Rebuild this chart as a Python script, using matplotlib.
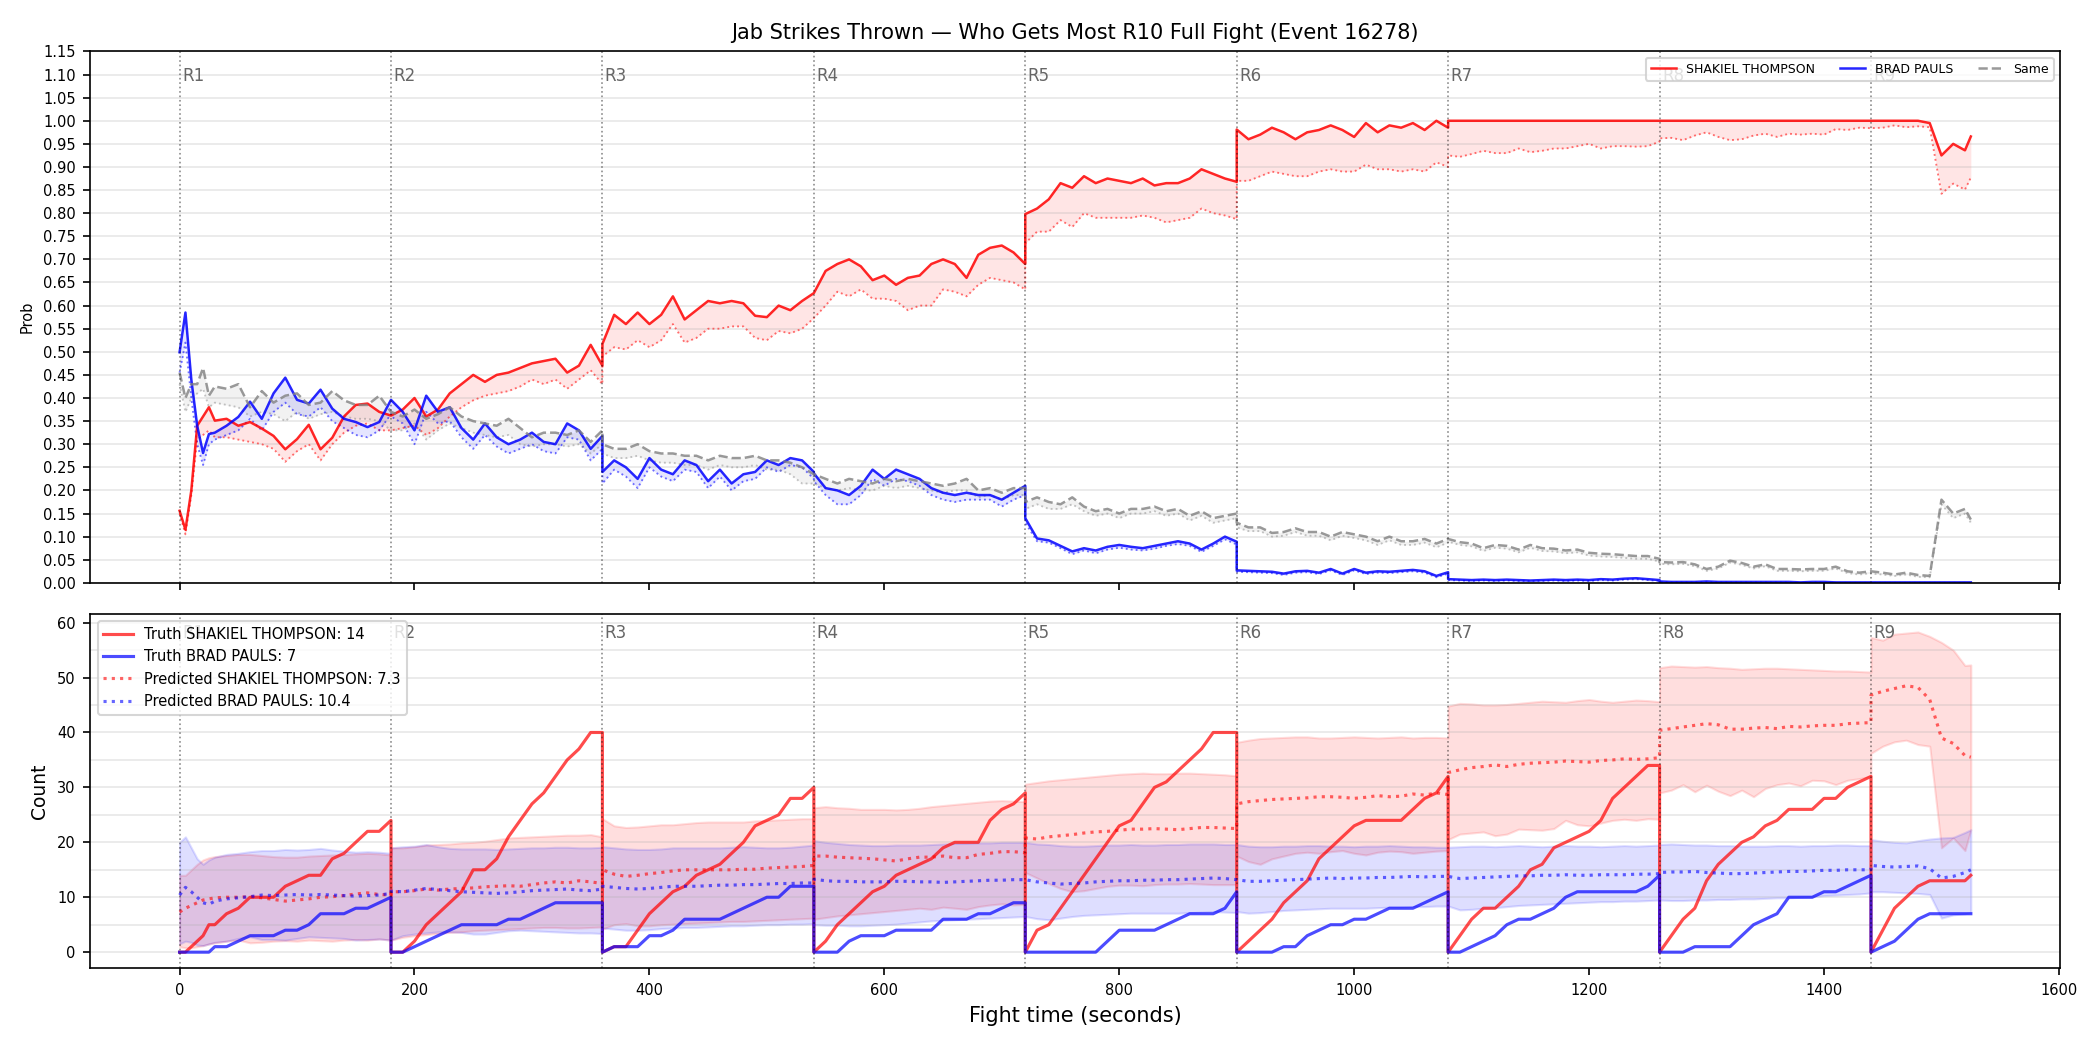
import numpy as np
import matplotlib.pyplot as plt
from matplotlib.ticker import MultipleLocator

# sample times per round (R1 sampled finer at the start, R9 stops at 1525 s)
R1_TIMES = [0, 5, 10, 15, 20, 25, 30] + list(range(40, 181, 10))
MID_TIMES = [list(range(180 * r, 180 * r + 181, 10)) for r in range(1, 8)]
R9_TIMES = list(range(1440, 1521, 10)) + [1525]
ROUND_TIMES = [R1_TIMES] + MID_TIMES + [R9_TIMES]
ROUND_STARTS = [0, 180, 360, 540, 720, 900, 1080, 1260, 1440]
ROUND_NAMES = ["R1", "R2", "R3", "R4", "R5", "R6", "R7", "R8", "R9"]

RED_NAME = "SHAKIEL THOMPSON"
BLUE_NAME = "BRAD PAULS"

###########################
### Top panel: P(winner) ###
###########################
prob_red = [
    [0.156, 0.115, 0.20, 0.34, 0.36, 0.38, 0.351, 0.355, 0.34, 0.348, 0.334, 0.318, 0.289, 0.311, 0.342, 0.289, 0.314, 0.36, 0.385, 0.388, 0.37, 0.362],
    [0.362, 0.375, 0.40, 0.36, 0.375, 0.41, 0.43, 0.45, 0.435, 0.45, 0.455, 0.465, 0.475, 0.48, 0.485, 0.455, 0.47, 0.515, 0.47],
    [0.517, 0.58, 0.56, 0.585, 0.56, 0.58, 0.62, 0.57, 0.59, 0.61, 0.605, 0.61, 0.605, 0.578, 0.575, 0.60, 0.59, 0.61, 0.627],
    [0.627, 0.675, 0.69, 0.70, 0.685, 0.655, 0.665, 0.645, 0.66, 0.665, 0.69, 0.70, 0.69, 0.66, 0.71, 0.725, 0.73, 0.715, 0.69],
    [0.798, 0.81, 0.83, 0.865, 0.855, 0.88, 0.865, 0.875, 0.87, 0.865, 0.875, 0.86, 0.865, 0.865, 0.875, 0.895, 0.885, 0.875, 0.868],
    [0.981, 0.96, 0.97, 0.985, 0.975, 0.96, 0.975, 0.98, 0.99, 0.98, 0.965, 0.995, 0.975, 0.99, 0.985, 0.995, 0.98, 1.0, 0.985],
    [1.0, 1.0, 1.0, 1.0, 1.0, 1.0, 1.0, 1.0, 1.0, 1.0, 1.0, 1.0, 1.0, 1.0, 1.0, 1.0, 1.0, 1.0, 1.0],
    [1.0, 1.0, 1.0, 1.0, 1.0, 1.0, 1.0, 1.0, 1.0, 1.0, 1.0, 1.0, 1.0, 1.0, 1.0, 1.0, 1.0, 1.0, 1.0],
    [1.0, 1.0, 1.0, 1.0, 1.0, 0.995, 0.925, 0.95, 0.936, 0.966],
]
prob_red_low = [
    [0.15, 0.105, 0.19, 0.31, 0.32, 0.33, 0.315, 0.315, 0.31, 0.305, 0.30, 0.29, 0.262, 0.285, 0.30, 0.265, 0.30, 0.325, 0.34, 0.345, 0.33, 0.33],
    [0.33, 0.335, 0.34, 0.32, 0.335, 0.36, 0.38, 0.395, 0.405, 0.41, 0.415, 0.425, 0.44, 0.43, 0.44, 0.42, 0.44, 0.46, 0.43],
    [0.49, 0.51, 0.505, 0.525, 0.51, 0.525, 0.56, 0.52, 0.53, 0.55, 0.55, 0.555, 0.555, 0.53, 0.525, 0.545, 0.54, 0.55, 0.573],
    [0.573, 0.60, 0.63, 0.62, 0.635, 0.615, 0.615, 0.61, 0.59, 0.60, 0.60, 0.635, 0.63, 0.62, 0.645, 0.66, 0.655, 0.65, 0.635],
    [0.735, 0.76, 0.76, 0.785, 0.77, 0.80, 0.79, 0.79, 0.79, 0.79, 0.795, 0.79, 0.78, 0.785, 0.79, 0.81, 0.80, 0.795, 0.787],
    [0.87, 0.87, 0.88, 0.89, 0.885, 0.88, 0.88, 0.89, 0.895, 0.89, 0.89, 0.905, 0.895, 0.895, 0.89, 0.895, 0.89, 0.91, 0.90],
    [0.925, 0.922, 0.928, 0.935, 0.93, 0.93, 0.94, 0.932, 0.935, 0.94, 0.94, 0.945, 0.95, 0.94, 0.945, 0.945, 0.944, 0.945, 0.955],
    [0.962, 0.963, 0.958, 0.968, 0.975, 0.965, 0.958, 0.96, 0.968, 0.972, 0.965, 0.972, 0.97, 0.972, 0.97, 0.982, 0.98, 0.985, 0.984],
    [0.984, 0.985, 0.99, 0.986, 0.988, 0.986, 0.842, 0.864, 0.851, 0.877],
]
prob_blue = [
    [0.499, 0.585, 0.44, 0.34, 0.281, 0.322, 0.325, 0.34, 0.359, 0.392, 0.355, 0.41, 0.444, 0.396, 0.388, 0.418, 0.377, 0.355, 0.348, 0.337, 0.348, 0.396],
    [0.396, 0.37, 0.33, 0.405, 0.37, 0.38, 0.335, 0.31, 0.345, 0.315, 0.30, 0.31, 0.325, 0.305, 0.30, 0.345, 0.33, 0.29, 0.318],
    [0.24, 0.265, 0.25, 0.225, 0.27, 0.245, 0.235, 0.265, 0.255, 0.22, 0.245, 0.215, 0.235, 0.24, 0.265, 0.255, 0.27, 0.265, 0.24],
    [0.237, 0.205, 0.20, 0.19, 0.21, 0.245, 0.225, 0.245, 0.235, 0.225, 0.205, 0.195, 0.19, 0.195, 0.19, 0.19, 0.18, 0.195, 0.21],
    [0.14, 0.096, 0.092, 0.08, 0.068, 0.075, 0.07, 0.078, 0.082, 0.078, 0.075, 0.08, 0.085, 0.09, 0.085, 0.072, 0.085, 0.10, 0.089],
    [0.027, 0.026, 0.025, 0.024, 0.02, 0.025, 0.026, 0.022, 0.03, 0.02, 0.03, 0.022, 0.025, 0.024, 0.026, 0.028, 0.025, 0.015, 0.023],
    [0.008, 0.007, 0.006, 0.007, 0.006, 0.007, 0.006, 0.005, 0.006, 0.007, 0.006, 0.007, 0.006, 0.008, 0.007, 0.009, 0.01, 0.008, 0.006],
    [0.003, 0.002, 0.002, 0.002, 0.003, 0.002, 0.002, 0.002, 0.002, 0.002, 0.002, 0.002, 0.001, 0.002, 0.002, 0.001, 0.001, 0.001, 0.001],
    [0.001, 0.001, 0.001, 0.001, 0.001, 0.001, 0.001, 0.001, 0.001, 0.001],
]
prob_blue_low = [
    [0.455, 0.52, 0.40, 0.30, 0.255, 0.30, 0.31, 0.32, 0.33, 0.355, 0.33, 0.37, 0.39, 0.365, 0.36, 0.38, 0.35, 0.335, 0.32, 0.315, 0.33, 0.365],
    [0.36, 0.345, 0.30, 0.37, 0.345, 0.35, 0.315, 0.29, 0.32, 0.295, 0.28, 0.29, 0.30, 0.285, 0.28, 0.315, 0.31, 0.265, 0.29],
    [0.215, 0.245, 0.23, 0.205, 0.25, 0.23, 0.22, 0.245, 0.24, 0.205, 0.23, 0.20, 0.22, 0.225, 0.25, 0.24, 0.255, 0.25, 0.225],
    [0.22, 0.19, 0.17, 0.17, 0.19, 0.225, 0.21, 0.225, 0.22, 0.21, 0.19, 0.18, 0.175, 0.18, 0.18, 0.18, 0.165, 0.18, 0.19],
    [0.13, 0.09, 0.087, 0.075, 0.062, 0.07, 0.064, 0.072, 0.076, 0.072, 0.07, 0.074, 0.08, 0.084, 0.08, 0.067, 0.08, 0.094, 0.083],
    [0.024, 0.023, 0.022, 0.021, 0.017, 0.022, 0.023, 0.019, 0.027, 0.017, 0.027, 0.019, 0.022, 0.021, 0.023, 0.025, 0.022, 0.012, 0.02],
    [0.006, 0.005, 0.004, 0.005, 0.004, 0.005, 0.004, 0.004, 0.004, 0.005, 0.004, 0.005, 0.004, 0.006, 0.005, 0.007, 0.008, 0.006, 0.004],
    [0.002, 0.001, 0.001, 0.001, 0.002, 0.001, 0.001, 0.001, 0.001, 0.001, 0.001, 0.001, 0.0, 0.001, 0.001, 0.0, 0.0, 0.0, 0.0],
    [0.0, 0.0, 0.0, 0.0, 0.0, 0.0, 0.0, 0.0, 0.0, 0.0],
]
prob_same = [
    [0.455, 0.40, 0.43, 0.43, 0.465, 0.405, 0.425, 0.42, 0.43, 0.38, 0.415, 0.39, 0.405, 0.41, 0.385, 0.39, 0.415, 0.395, 0.385, 0.385, 0.405, 0.37],
    [0.37, 0.36, 0.375, 0.355, 0.365, 0.38, 0.36, 0.35, 0.345, 0.34, 0.355, 0.335, 0.315, 0.325, 0.325, 0.32, 0.33, 0.305, 0.33],
    [0.30, 0.29, 0.29, 0.30, 0.285, 0.28, 0.28, 0.275, 0.275, 0.265, 0.275, 0.27, 0.27, 0.275, 0.265, 0.265, 0.26, 0.25, 0.235],
    [0.235, 0.225, 0.215, 0.225, 0.22, 0.215, 0.225, 0.22, 0.225, 0.22, 0.215, 0.21, 0.215, 0.225, 0.20, 0.205, 0.195, 0.205, 0.205],
    [0.175, 0.185, 0.175, 0.17, 0.185, 0.165, 0.155, 0.16, 0.15, 0.16, 0.16, 0.165, 0.155, 0.16, 0.145, 0.155, 0.14, 0.145, 0.15],
    [0.13, 0.12, 0.12, 0.108, 0.11, 0.118, 0.11, 0.11, 0.10, 0.11, 0.105, 0.10, 0.09, 0.10, 0.09, 0.09, 0.095, 0.085, 0.095],
    [0.095, 0.088, 0.085, 0.075, 0.082, 0.08, 0.072, 0.082, 0.075, 0.074, 0.07, 0.072, 0.065, 0.063, 0.062, 0.06, 0.058, 0.058, 0.052],
    [0.045, 0.044, 0.045, 0.04, 0.03, 0.035, 0.048, 0.043, 0.035, 0.04, 0.03, 0.03, 0.029, 0.03, 0.03, 0.035, 0.025, 0.022, 0.025],
    [0.025, 0.022, 0.018, 0.022, 0.017, 0.015, 0.18, 0.15, 0.16, 0.137],
]
prob_same_low = [
    [0.43, 0.37, 0.40, 0.41, 0.42, 0.38, 0.39, 0.385, 0.38, 0.36, 0.37, 0.365, 0.35, 0.37, 0.355, 0.365, 0.37, 0.36, 0.355, 0.355, 0.35, 0.33],
    [0.33, 0.33, 0.345, 0.31, 0.33, 0.345, 0.335, 0.325, 0.32, 0.315, 0.32, 0.30, 0.295, 0.30, 0.30, 0.295, 0.30, 0.28, 0.30],
    [0.28, 0.27, 0.27, 0.275, 0.265, 0.26, 0.26, 0.255, 0.255, 0.245, 0.255, 0.25, 0.25, 0.255, 0.245, 0.245, 0.235, 0.215, 0.215],
    [0.215, 0.205, 0.20, 0.205, 0.20, 0.20, 0.21, 0.205, 0.21, 0.205, 0.20, 0.195, 0.20, 0.20, 0.185, 0.19, 0.18, 0.19, 0.19],
    [0.16, 0.17, 0.16, 0.16, 0.17, 0.155, 0.145, 0.15, 0.14, 0.15, 0.15, 0.155, 0.145, 0.15, 0.135, 0.145, 0.13, 0.135, 0.14],
    [0.12, 0.112, 0.112, 0.10, 0.102, 0.11, 0.102, 0.102, 0.092, 0.102, 0.097, 0.092, 0.082, 0.092, 0.082, 0.082, 0.087, 0.077, 0.087],
    [0.089, 0.082, 0.079, 0.069, 0.076, 0.074, 0.066, 0.076, 0.069, 0.068, 0.064, 0.066, 0.059, 0.057, 0.056, 0.054, 0.052, 0.052, 0.046],
    [0.041, 0.04, 0.041, 0.036, 0.026, 0.031, 0.044, 0.039, 0.031, 0.036, 0.026, 0.026, 0.025, 0.026, 0.026, 0.031, 0.021, 0.018, 0.021],
    [0.02, 0.018, 0.015, 0.018, 0.013, 0.012, 0.17, 0.14, 0.15, 0.13],
]

################################
### Bottom panel: jab counts ###
################################
truth_red = [
    [0, 0, 1, 2, 3, 5, 5, 7, 8, 10, 10, 10, 12, 13, 14, 14, 17, 18, 20, 22, 22, 24],
    [0, 0, 2, 5, 7, 9, 11, 15, 15, 17, 21, 24, 27, 29, 32, 35, 37, 40, 40],
    [0, 1, 1, 4, 7, 9, 11, 12, 14, 15, 16, 18, 20, 23, 24, 25, 28, 28, 30],
    [0, 2, 5, 7, 9, 11, 12, 14, 15, 16, 17, 19, 20, 20, 20, 24, 26, 27, 29],
    [0, 4, 5, 8, 11, 14, 17, 20, 23, 24, 27, 30, 31, 33, 35, 37, 40, 40, 40],
    [0, 2, 4, 6, 9, 11, 13, 17, 19, 21, 23, 24, 24, 24, 24, 26, 28, 29, 32],
    [0, 3, 6, 8, 8, 10, 12, 15, 16, 19, 20, 21, 22, 24, 28, 30, 32, 34, 34],
    [0, 3, 6, 8, 13, 16, 18, 20, 21, 23, 24, 26, 26, 26, 28, 28, 30, 31, 32],
    [0, 4, 8, 10, 12, 13, 13, 13, 13, 14],
]
truth_blue = [
    [0, 0, 0, 0, 0, 0, 1, 1, 2, 3, 3, 3, 4, 4, 5, 7, 7, 7, 8, 8, 9, 10],
    [0, 0, 1, 2, 3, 4, 5, 5, 5, 5, 6, 6, 7, 8, 9, 9, 9, 9, 9],
    [0, 1, 1, 1, 3, 3, 4, 6, 6, 6, 6, 7, 8, 9, 10, 10, 12, 12, 12],
    [0, 0, 0, 2, 3, 3, 3, 4, 4, 4, 4, 6, 6, 6, 7, 7, 8, 9, 9],
    [0, 0, 0, 0, 0, 0, 0, 2, 4, 4, 4, 4, 5, 6, 7, 7, 7, 8, 11],
    [0, 0, 0, 0, 1, 1, 3, 4, 5, 5, 6, 6, 7, 8, 8, 8, 9, 10, 11],
    [0, 0, 1, 2, 3, 5, 6, 6, 7, 8, 10, 11, 11, 11, 11, 11, 11, 12, 14],
    [0, 0, 0, 1, 1, 1, 1, 3, 5, 6, 7, 10, 10, 10, 11, 11, 12, 13, 14],
    [0, 1, 2, 4, 6, 7, 7, 7, 7, 7],
]
pred_red = [
    [7.3, 8, 8.5, 9, 9.5, 9.7, 9.9, 10, 10, 10.1, 9.9, 9.6, 9.3, 9.5, 9.7, 10, 10.1, 10.3, 10.6, 10.8, 10.5, 10.4],
    [11, 11, 11.2, 11.5, 11.3, 11.5, 11.6, 11.7, 11.9, 12, 12.1, 12, 12.3, 12.6, 12.8, 12.6, 13, 12.8, 12.5],
    [15, 14.2, 13.8, 14, 14.3, 14.5, 14.8, 15, 15, 15, 15, 15, 15.1, 15.1, 15.3, 15.4, 15.5, 15.6, 15.8],
    [17.5, 17.5, 17.3, 17.2, 17.1, 17, 16.8, 16.6, 17, 17.3, 17.3, 17.5, 17.2, 17.2, 17.8, 18, 18.3, 18.3, 18.1],
    [20.8, 20.6, 21, 21.2, 21.4, 21.7, 21.9, 22, 22.2, 22.4, 22.4, 22.5, 22.4, 22.3, 22.5, 22.7, 22.7, 22.6, 22.5],
    [27, 27.4, 27.6, 27.8, 27.9, 28, 28.1, 28.3, 28.3, 28.2, 28, 28.2, 28.5, 28.3, 28.4, 28.8, 28.6, 29, 28.7],
    [32.7, 33.2, 33.6, 33.8, 34.1, 33.8, 34.2, 34.4, 34.5, 34.6, 34.8, 34.7, 34.6, 34.9, 35, 35.2, 35.1, 35.2, 35.4],
    [40.4, 40.7, 41, 41.3, 41.6, 41.4, 40.6, 40.6, 40.8, 40.9, 40.7, 41.1, 41, 41.2, 41.3, 41.3, 41.6, 41.7, 41.8],
    [46.8, 47.5, 48, 48.5, 48.2, 46, 39, 38, 35.8, 35.5],
]
pred_blue = [
    [10.4, 11.8, 11, 10, 9, 8.7, 9.3, 9.7, 9.9, 10.1, 10.4, 10.3, 10.4, 10.5, 10.4, 10.5, 10.4, 10.3, 10.2, 10.3, 10.4, 10.7],
    [11.1, 11, 11.3, 11.6, 11.4, 11.2, 11, 10.9, 10.8, 10.7, 10.8, 11, 11.2, 11.3, 11.4, 11.5, 11.3, 11.2, 11.5],
    [12, 11.8, 11.6, 11.5, 11.6, 11.8, 12, 12, 12, 12.1, 12.2, 12.2, 12.3, 12.3, 12.4, 12.5, 12.5, 12.6, 12.6],
    [13.3, 13, 12.9, 12.9, 12.8, 12.8, 12.8, 12.9, 12.9, 12.8, 12.8, 12.7, 12.8, 12.9, 13, 13.1, 13.1, 13.2, 13.2],
    [13.2, 12.8, 12.6, 12.4, 12.5, 12.6, 12.8, 12.9, 13, 13, 13.1, 13.1, 13.2, 13.2, 13.3, 13.4, 13.5, 13.4, 13.2],
    [13.2, 12.9, 12.9, 13, 13.1, 13.2, 13.3, 13.4, 13.5, 13.4, 13.5, 13.5, 13.6, 13.6, 13.7, 13.8, 13.7, 13.8, 13.8],
    [13.8, 13.4, 13.5, 13.6, 13.7, 13.8, 13.9, 13.9, 14, 14, 14.1, 14, 14, 14.1, 14.1, 14.1, 14.2, 14.2, 14.3],
    [14.5, 14.6, 14.6, 14.7, 14.5, 14.4, 14.3, 14.3, 14.4, 14.5, 14.6, 14.7, 14.7, 14.8, 14.9, 14.9, 15, 15, 15],
    [15.8, 15.6, 15.5, 15.6, 15.7, 15.2, 13.5, 13.8, 14.5, 15],
]
band_red_hi = [
    [14, 14, 15, 16, 16.8, 17.2, 17.4, 17.6, 17.8, 17.8, 17.6, 17.4, 17.3, 17.3, 17.5, 17.6, 17.7, 17.8, 17.9, 18, 17.9, 17.7],
    [19, 19, 19.2, 19.5, 19.6, 19.7, 19.9, 20, 20.2, 20.5, 20.8, 20.9, 21, 21.1, 21.2, 21.3, 21.3, 21.4, 21],
    [24.3, 23, 22.7, 22.8, 23, 23.2, 23.2, 23.4, 23.6, 23.7, 23.7, 23.7, 23.7, 23.9, 24, 24.1, 24.2, 24.3, 24.3],
    [26.3, 26.5, 26.3, 26.2, 26, 26, 26, 25.9, 26, 26.2, 26.5, 26.7, 26.9, 27.1, 27.3, 27.5, 27.6, 27.5, 27.4],
    [30.6, 30.9, 31.2, 31.4, 31.6, 31.8, 32, 32.2, 32.4, 32.5, 32.6, 32.5, 32.5, 32.6, 32.6, 32.5, 32.4, 32.3, 32.1],
    [38.2, 38.6, 38.9, 39, 39.1, 39.2, 39.2, 39, 39, 39.1, 39.2, 39.1, 39, 39.1, 39.2, 39, 39.1, 39.1, 39],
    [44.8, 45.3, 45.2, 45, 45, 45.1, 45.3, 45.5, 45.7, 45.6, 45.5, 45.8, 46, 45.7, 45.5, 45.7, 45.9, 45.8, 45.6],
    [51.8, 52.1, 52, 51.9, 52, 51.8, 51.7, 51.5, 51.6, 51.7, 51.7, 51.6, 51.5, 51.4, 51.3, 51.2, 51.2, 51.1, 51],
    [57.3, 56.8, 57.9, 58.1, 58.3, 57.5, 56.4, 55, 52.2, 52.3],
]
band_red_lo = [
    [1, 0.8, 0.8, 1, 1.2, 1.5, 1.7, 2, 2.2, 1.7, 1.8, 2, 2.1, 2, 2.2, 2.1, 2, 2.2, 2.3, 2.2, 2.4, 2.2],
    [2.2, 2.7, 3, 3.2, 3.4, 3.6, 3.7, 3.9, 4, 4.1, 4.2, 4.3, 4.4, 4.5, 4.5, 4.4, 4.4, 4.5, 4.6],
    [4.2, 5, 5.2, 4.8, 4.8, 5, 5.1, 5.2, 5.3, 5.4, 5.5, 5.6, 5.6, 5.7, 5.8, 5.9, 6, 6.1, 6.2],
    [6, 6.3, 6.6, 6.8, 7, 7.2, 7.4, 7.6, 7.8, 8, 7.8, 8.2, 8, 7.8, 8.3, 8.6, 8.8, 8.6, 8.7],
    [14.5, 13.5, 12.5, 11.6, 11, 11.2, 11.6, 12, 12.2, 12.2, 12.1, 12.3, 12.4, 12.4, 12.5, 12.4, 12.3, 12.3, 12.3],
    [17.5, 16.5, 16, 17, 17.5, 18, 18.2, 18, 18.3, 18.5, 18, 17.7, 18.2, 18.4, 18.3, 18, 18.2, 18.4, 18.5],
    [20.5, 21.5, 21.7, 21.9, 21.2, 21.5, 22.4, 22.3, 22.2, 22.5, 24, 23.2, 23, 23.5, 24, 24.2, 24, 24.3, 24.2],
    [29, 29.5, 30.5, 29.2, 30.4, 29.3, 28.5, 29.5, 28.3, 29.8, 30.5, 30.8, 30.3, 31.3, 31.2, 30.5, 31.3, 31.6, 32],
    [36.2, 37.5, 38.3, 38.6, 37.8, 37.5, 19, 20.8, 18.5, 22.3],
]
band_blue_hi = [
    [20, 21, 19, 17, 16, 16.8, 17.3, 17.8, 18, 18.3, 18.5, 18.5, 18.7, 18.6, 18.7, 18.9, 18.6, 18.4, 18.2, 18.3, 18.2, 18],
    [19, 19.2, 19.3, 19.6, 19.2, 18.9, 18.8, 18.8, 18.8, 18.7, 18.8, 18.9, 19, 19, 19.1, 19.1, 19, 19, 19.1],
    [19.2, 19, 18.8, 18.7, 18.7, 18.8, 19, 19, 19, 19, 19, 19.1, 19.2, 19.1, 19, 19, 19.1, 19.3, 19.5],
    [20.3, 20, 19.8, 19.6, 19.5, 19.4, 19.4, 19.5, 19.5, 19.5, 19.6, 19.7, 19.8, 19.8, 19.9, 19.9, 20, 20, 20],
    [20, 19.7, 19.6, 19.4, 19.3, 19.3, 19.4, 19.5, 19.5, 19.6, 19.5, 19.5, 19.6, 19.6, 19.7, 19.7, 19.7, 19.6, 19.6],
    [19.6, 19.3, 19.2, 19.2, 19.3, 19.3, 19.4, 19.4, 19.3, 19.3, 19.2, 19.3, 19.3, 19.4, 19.3, 19.2, 19.2, 19.1, 19.1],
    [19.1, 19.2, 19.3, 19.3, 19.2, 19.3, 19.4, 19.3, 19.2, 19.3, 19.4, 19.3, 19.3, 19.2, 19.3, 19.4, 19.3, 19.4, 19.5],
    [19.6, 19.7, 19.6, 19.5, 19.5, 19.4, 19.4, 19.3, 19.3, 19.3, 19.4, 19.4, 19.3, 19.4, 19.4, 19.5, 19.5, 19.4, 19.4],
    [20.5, 20.2, 20, 19.9, 20.3, 20.6, 20.8, 20.9, 21.8, 22.3],
]
band_blue_lo = [
    [1.5, 2, 1.8, 1.3, 1.2, 1.5, 1.8, 2, 2.5, 2.8, 2.3, 2.3, 2.2, 2.5, 2.8, 2.7, 2.6, 2.5, 2.2, 2.3, 2.4, 2.2],
    [2.2, 3, 3.3, 3.5, 3.7, 3.7, 3.6, 3.3, 3.3, 3.6, 3.9, 4, 3.9, 3.8, 3.7, 3.6, 3.5, 3.5, 3.4],
    [4.4, 4.2, 4, 4, 4.1, 4.3, 4.4, 4.5, 4.5, 4.6, 4.7, 4.8, 4.8, 4.9, 5, 5, 5.1, 5.1, 5.2],
    [5, 4.9, 4.9, 4.8, 4.8, 4.9, 5, 5.1, 5.3, 5.5, 5.7, 5.8, 5.9, 6, 6.1, 6.2, 6.3, 6.4, 6.5],
    [6.5, 6.1, 5.9, 6.2, 6.5, 6.7, 6.8, 6.9, 7, 7.1, 7.1, 7.1, 7.1, 7.1, 7.2, 7.3, 7.4, 7.3, 7.2],
    [7.4, 7.1, 7.2, 7.4, 7.6, 7.7, 7.8, 7.9, 8, 8, 8, 8, 8.1, 8.2, 8.2, 8.3, 8.3, 8.4, 8.4],
    [8.4, 7.7, 7.8, 8, 8.1, 8.3, 8.5, 8.6, 8.7, 8.8, 8.9, 9, 9.1, 9.2, 9.2, 9.3, 9.3, 9.4, 9.5],
    [9.5, 9.4, 9.4, 9.5, 9.5, 9.6, 9.6, 9.7, 9.7, 9.8, 9.9, 9.9, 10, 10.1, 10.3, 10.4, 10.5, 10.6, 10.8],
    [11, 11, 10.9, 10.8, 10.7, 10.5, 6.2, 6.8, 7, 7.2],
]


#To join the rounds into one series (round edges keep both values, giving the drops)
def joined(rounds, name):
    for i, (vals, ts) in enumerate(zip(rounds, ROUND_TIMES)):
        if len(vals) != len(ts):
            raise ValueError(f"{name} round {i + 1}: {len(vals)} values for {len(ts)} times")
    return np.concatenate([np.asarray(v, dtype=float) for v in rounds])


t = np.concatenate([np.asarray(ts, dtype=float) for ts in ROUND_TIMES])

fig, (ax1, ax2) = plt.subplots(2, 1, figsize=(14, 7), dpi=150, sharex=True,
                               gridspec_kw={"height_ratios": [1.5, 1]})
fig.subplots_adjust(left=0.043, right=0.981, top=0.951, bottom=0.078, hspace=0.07)

#Top panel
r_hi = joined(prob_red, "prob_red")
r_lo = joined(prob_red_low, "prob_red_low")
b_hi = joined(prob_blue, "prob_blue")
b_lo = joined(prob_blue_low, "prob_blue_low")
s_hi = joined(prob_same, "prob_same")
s_lo = joined(prob_same_low, "prob_same_low")

ax1.fill_between(t, r_lo, r_hi, color="red", alpha=0.1, lw=0)
ax1.fill_between(t, b_lo, b_hi, color="blue", alpha=0.1, lw=0)
ax1.fill_between(t, s_lo, s_hi, color="gray", alpha=0.1, lw=0)
ax1.plot(t, r_lo, color="red", ls=":", lw=0.9, alpha=0.55)
ax1.plot(t, b_lo, color="blue", ls=":", lw=0.9, alpha=0.55)
ax1.plot(t, s_lo, color="gray", ls=":", lw=0.9, alpha=0.45)
ax1.plot(t, r_hi, color="red", lw=1.2, alpha=0.85, label=RED_NAME)
ax1.plot(t, b_hi, color="blue", lw=1.2, alpha=0.85, label=BLUE_NAME)
ax1.plot(t, s_hi, color="gray", ls="--", lw=1.2, alpha=0.8, label="Same")

ax1.set_ylim(0, 1.15)
ax1.set_yticks(np.arange(0, 1.151, 0.05))
ax1.set_ylabel("Prob", fontsize=7)
ax1.set_title("Jab Strikes Thrown — Who Gets Most R10 Full Fight (Event 16278)", fontsize=10)
ax1.grid(axis="y", alpha=0.3)
ax1.legend(loc="upper right", fontsize=6, ncol=3)

#Bottom panel
ax2.fill_between(t, joined(band_red_lo, "band_red_lo"), joined(band_red_hi, "band_red_hi"),
                 color="red", alpha=0.13)
ax2.fill_between(t, joined(band_blue_lo, "band_blue_lo"), joined(band_blue_hi, "band_blue_hi"),
                 color="blue", alpha=0.13)
ax2.plot(t, joined(truth_red, "truth_red"), color="red", lw=1.5, alpha=0.7,
         label=f"Truth {RED_NAME}: {truth_red[-1][-1]}")
ax2.plot(t, joined(truth_blue, "truth_blue"), color="blue", lw=1.5, alpha=0.7,
         label=f"Truth {BLUE_NAME}: {truth_blue[-1][-1]}")
ax2.plot(t, joined(pred_red, "pred_red"), color="red", ls=":", lw=1.5, alpha=0.6,
         label=f"Predicted {RED_NAME}: {pred_red[0][0]}")
ax2.plot(t, joined(pred_blue, "pred_blue"), color="blue", ls=":", lw=1.5, alpha=0.6,
         label=f"Predicted {BLUE_NAME}: {pred_blue[0][0]}")

ax2.set_ylim(-2.9, 61.6)
ax2.yaxis.set_minor_locator(MultipleLocator(5))
ax2.tick_params(axis="y", which="minor", length=0)
ax2.grid(axis="y", which="both", alpha=0.3)
ax2.set_ylabel("Count", fontsize=9)
ax2.set_xlabel("Fight time (seconds)", fontsize=10)
ax2.legend(loc="upper left", fontsize=7)

ax2.set_xlim(-76, 1601)
ax2.set_xticks(np.arange(0, 1601, 200))

#Round markers on both panels
for ax in (ax1, ax2):
    top = ax.get_ylim()[1]
    for start, name in zip(ROUND_STARTS, ROUND_NAMES):
        ax.axvline(start, color="black", ls=":", lw=0.8, alpha=0.45)
        ax.text(start + 2, top * 0.97, name, fontsize=8, color="#666666", va="top")
    ax.tick_params(labelsize=7)

fig.savefig("out.png", dpi=150)
